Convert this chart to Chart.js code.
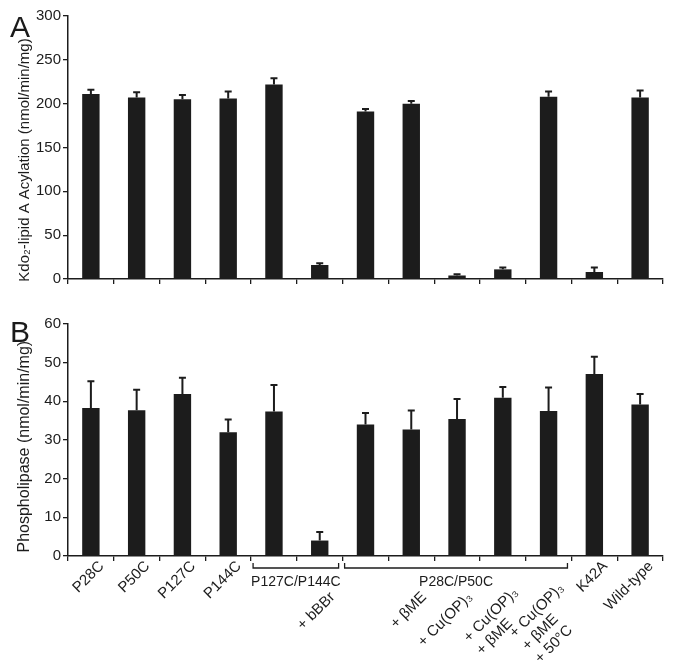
<!DOCTYPE html>
<html>
<head>
<meta charset="utf-8">
<script src="https://cdn.jsdelivr.net/npm/chart.js@4/dist/chart.umd.min.js"></script>
<style>
  html, body { margin: 0; padding: 0; background: #fff; }
  body { width: 674px; height: 666px; position: relative; overflow: hidden; }
  canvas { position: absolute; left: 0; }
  #chartA { top: 0; }
  #chartB { top: 300px; }
  .panel {
    position: absolute; left: 10px;
    font: 30px "Liberation Sans", Arial, sans-serif;
    line-height: 30px; color: #1a1a1a;
  }
</style>
</head>
<body>
<canvas id="chartA" width="674" height="300"></canvas>
<canvas id="chartB" width="674" height="366"></canvas>
<div class="panel" style="top:12px">A</div>
<div class="panel" style="top:317px">B</div>
<script>
const categories = [
  "P28C", "P50C", "P127C", "P144C", "P127C/P144C", "P127C/P144C + bBBr",
  "P28C/P50C", "P28C/P50C + βME", "P28C/P50C + Cu(OP)3",
  "P28C/P50C + Cu(OP)3 + βME", "P28C/P50C + Cu(OP)3 + βME + 50°C",
  "K42A", "Wild-type",
];

// panel A: Kdo2-lipid A acylation (nmol/min/mg)
const acylation = [211, 207, 205, 206, 222, 16, 191, 200, 4, 11, 208, 8, 207];
const acylationErr = [5, 6, 5, 8, 7, 2, 3, 3, 1.5, 2, 6, 5, 8];

// panel B: phospholipase (nmol/min/mg)
const phospholipase = [38.3, 37.7, 41.9, 32, 37.4, 4, 34, 32.7, 35.4, 40.9, 37.5, 47.1, 39.2];
const phospholipaseErr = [6.9, 5.3, 4.2, 3.3, 6.8, 2.2, 3, 4.9, 5.2, 2.8, 6.1, 4.4, 2.7];

// rotated tick labels under panel B (one list of lines per bar)
const tickLabels = [
  ["P28C"], ["P50C"], ["P127C"], ["P144C"], [], ["+ bBBr"],
  [], ["+ βME"], ["+ Cu(OP)₃"], ["+ Cu(OP)₃", "+ βME"],
  ["+ Cu(OP)₃", "+ βME", "+ 50°C"], ["K42A"], ["Wild-type"],
];
const groupNames = ["P127C/P144C", "P28C/P50C"];
const groupFrom = [4, 6];
const groupTo = [5, 10];

const FONT = "'Liberation Sans', Arial, Helvetica, sans-serif";
const INK = "#1c1c1c";

const errorBarPlugin = {
  id: "errorBars",
  afterDatasetsDraw(chart, _args, opts) {
    const errs = opts?.errors;
    if (!errs) return;
    const { ctx } = chart;
    const meta = chart.getDatasetMeta(0);
    const yScale = chart.scales.y;
    const values = chart.data.datasets[0].data;
    ctx.save();
    ctx.strokeStyle = INK;
    ctx.lineWidth = 2;
    meta.data.forEach((bar, i) => {
      const top = yScale.getPixelForValue(values[i] + errs[i]);
      const base = yScale.getPixelForValue(values[i]);
      ctx.beginPath();
      ctx.moveTo(bar.x, base);
      ctx.lineTo(bar.x, top);
      ctx.moveTo(bar.x - 3.5, top);
      ctx.lineTo(bar.x + 3.5, top);
      ctx.stroke();
    });
    ctx.restore();
  },
};

const groupLabelPlugin = {
  id: "groupLabels",
  afterDraw(chart, _args, opts) {
    if (!opts?.enabled) return;
    const { ctx } = chart;
    const x = chart.scales.x;
    const bottom = chart.chartArea.bottom;
    const step = x.getPixelForValue(1) - x.getPixelForValue(0);
    const inGroup = (i) => groupFrom.some((f, g) => i >= f && i <= groupTo[g]);
    const size = 15;
    const lh = 18;
    const cap = 11;

    ctx.save();
    ctx.fillStyle = INK;
    ctx.strokeStyle = INK;

    // brackets and group names
    ctx.font = `14px ${FONT}`;
    ctx.lineWidth = 1.3;
    groupNames.forEach((name, g) => {
      const left = x.getPixelForValue(groupFrom[g]) - step / 2 + 2;
      const right = x.getPixelForValue(groupTo[g]) + step / 2 - 4;
      const yb = bottom + 12;
      ctx.beginPath();
      ctx.moveTo(left, yb - 5);
      ctx.lineTo(left, yb);
      ctx.lineTo(right, yb);
      ctx.lineTo(right, yb - 5);
      ctx.stroke();
      ctx.textAlign = "center";
      ctx.textBaseline = "alphabetic";
      ctx.fillText(name, (left + right) / 2, bottom + 30);
    });

    // rotated labels: top-right corner of the first line pinned under each bar,
    // following lines left-aligned below it
    ctx.font = `${size}px ${FONT}`;
    ctx.textAlign = "left";
    tickLabels.forEach((lines, i) => {
      if (!lines.length) return;
      const grouped = inGroup(i);
      const extra = lines.length - 1;
      const ax = x.getPixelForValue(i) + (grouped ? 8 : 6);
      const ay = bottom + (grouped ? 34 - 4.5 * extra : 3);
      const w = Math.max(...lines.map((l) => ctx.measureText(l).width));
      ctx.save();
      ctx.translate(ax, ay);
      ctx.rotate(-Math.PI / 4);
      lines.forEach((line, j) => ctx.fillText(line, -w, cap + j * lh));
      ctx.restore();
    });
    ctx.restore();
  },
};

Chart.register(errorBarPlugin, groupLabelPlugin);

function makeChart(canvas, values, errs, cfg) {
  return new Chart(canvas.getContext("2d"), {
    type: "bar",
    data: {
      labels: categories,
      datasets: [{
        data: values,
        backgroundColor: INK,
        borderWidth: 0,
        categoryPercentage: 1,
        barPercentage: 0.38,
      }],
    },
    options: {
      animation: false,
      responsive: false,
      events: [],
      layout: { padding: { top: cfg.top, right: 11, left: 0, bottom: 0 } },
      plugins: {
        legend: { display: false },
        tooltip: { enabled: false },
        errorBars: { errors: errs },
        groupLabels: { enabled: Boolean(cfg.labels) },
      },
      scales: {
        x: {
          afterFit(scale) { scale.height = cfg.xHeight; },
          ticks: { display: false },
          grid: { drawOnChartArea: false, tickLength: 5, color: INK, lineWidth: 1.3 },
          border: { color: INK, width: 1.5 },
        },
        y: {
          min: 0,
          max: cfg.max,
          afterFit(scale) { scale.width = 68; },
          ticks: {
            stepSize: cfg.step,
            color: INK,
            padding: 2,
            font: { family: FONT, size: 15 },
          },
          title: {
            display: true,
            // trailing spaces nudge the centred title down like the original
            text: cfg.title,
            color: INK,
            padding: { top: cfg.titlePad, bottom: 0 },
            font: { family: FONT, size: cfg.titleSize },
          },
          grid: { drawOnChartArea: false, tickLength: 5, color: INK, lineWidth: 1.3 },
          border: { color: INK, width: 1.5 },
        },
      },
    },
  });
}

makeChart(document.getElementById("chartA"), acylation, acylationErr, {
  top: 16, xHeight: 21, max: 300, step: 50, titlePad: 16, titleSize: 15,
  title: "Kdo₂-lipid A Acylation (nmol/min/mg)      ",
});
makeChart(document.getElementById("chartB"), phospholipase, phospholipaseErr, {
  top: 24, xHeight: 110, max: 60, step: 10, titlePad: 15, titleSize: 16, labels: true,
  title: "Phospholipase (nmol/min/mg)   ",
});
</script>
</body>
</html>
